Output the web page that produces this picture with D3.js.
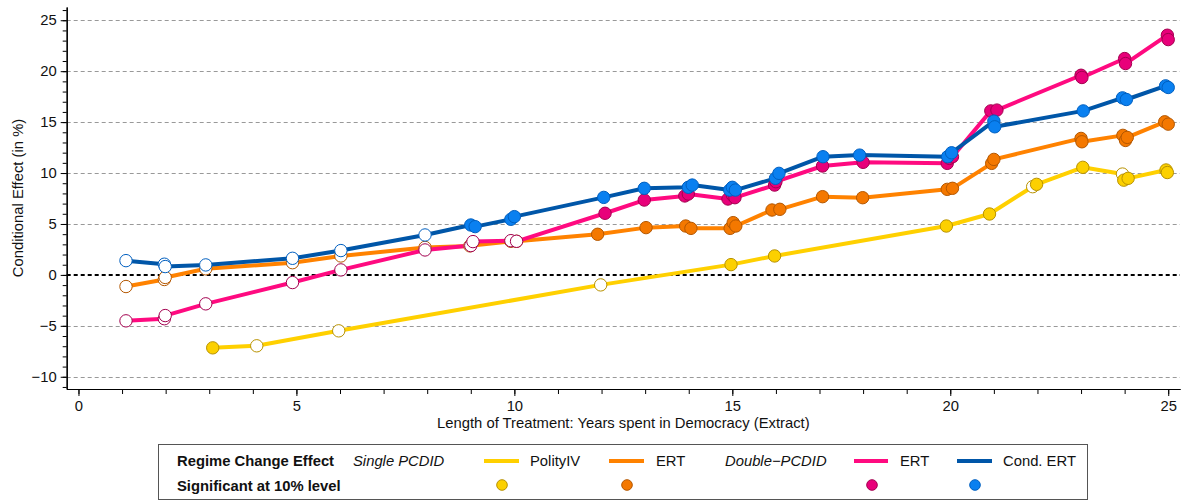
<!DOCTYPE html>
<html>
<head>
<meta charset="utf-8">
<script src="https://cdn.jsdelivr.net/npm/d3@7"></script>
<style>
  html, body { margin: 0; padding: 0; background: #fff; }
  svg { display: block; font-family: "Liberation Sans", Arial, Helvetica, sans-serif; }
</style>
</head>
<body>
<svg id="chart" width="1187" height="500"></svg>
<script>
// ---------------- DATA ----------------
const yMajorTicks = [-10, -5, 0, 5, 10, 15, 20, 25];
const xMajorTicks = [0, 5, 10, 15, 20, 25];

// PolityIV (Single PCDID)
const polityX = [3.08, 4.09, 5.97, 11.98, 14.97, 15.97, 19.91, 20.9, 21.89, 21.98, 23.04, 23.95, 23.98, 24.08, 24.95, 24.98];
const polityY = [-7.16, -6.96, -5.49, -0.98, 1.01, 1.86, 4.8, 5.98, 8.66, 8.89, 10.56, 9.9, 9.3, 9.48, 10.3, 10.05];
const politySig = [1, 0, 0, 0, 1, 1, 1, 1, 0, 1, 1, 0, 1, 1, 1, 1];

// ERT (Single PCDID)
const ertSX = [1.09, 1.97, 1.99, 2.92, 4.91, 6.02, 7.95, 8.98, 9.92, 10.05, 11.91, 13.02, 13.93, 14.05, 14.95, 15.02, 15.08, 15.91, 16.09, 17.07, 17.99, 19.93, 20.05, 20.95, 21.0, 23.0, 23.02, 23.96, 24.02, 24.06, 24.92, 25.0];
const ertSY = [-1.14, -0.45, -0.25, 0.6, 1.2, 1.86, 2.7, 2.85, 3.3, 3.3, 3.99, 4.64, 4.8, 4.57, 4.57, 5.13, 4.8, 6.37, 6.44, 7.68, 7.58, 8.4, 8.5, 10.95, 11.34, 13.4, 13.07, 13.7, 13.2, 13.5, 15.03, 14.8];
const ertSSig = [0, 0, 0, 0, 0, 0, 0, 0, 0, 0, 1, 1, 1, 1, 1, 1, 1, 1, 1, 1, 1, 1, 1, 1, 1, 1, 1, 1, 1, 1, 1, 1];

// ERT (Double-PCDID)
const ertDX = [1.09, 1.97, 1.99, 2.92, 4.91, 6.02, 7.95, 9.0, 9.05, 9.92, 10.05, 12.08, 12.98, 13.91, 13.99, 14.9, 15.0, 15.06, 15.97, 16.0, 17.07, 18.0, 19.93, 19.98, 20.05, 20.93, 21.07, 23.0, 23.02, 24.0, 24.02, 24.98, 25.0];
const ertDY = [-4.51, -4.3, -3.99, -2.84, -0.75, 0.49, 2.45, 2.88, 3.27, 3.36, 3.3, 6.05, 7.35, 7.75, 7.94, 7.45, 7.84, 7.58, 8.82, 9.15, 10.69, 11.05, 10.95, 11.44, 11.6, 16.1, 16.18, 19.6, 19.38, 21.24, 20.75, 23.53, 23.1];
const ertDSig = [0, 0, 0, 0, 0, 0, 0, 0, 0, 0, 0, 1, 1, 1, 1, 1, 1, 1, 1, 1, 1, 1, 1, 1, 1, 1, 1, 1, 1, 1, 1, 1, 1];

// Cond. ERT (Double-PCDID)
const condX = [1.09, 1.97, 1.99, 2.92, 4.91, 6.02, 7.95, 9.0, 9.1, 9.92, 10.0, 12.05, 12.98, 13.99, 14.08, 14.94, 15.0, 15.07, 15.99, 16.07, 17.08, 17.92, 19.94, 20.03, 21.0, 21.02, 23.05, 23.95, 24.04, 24.94, 25.0];
const condY = [1.4, 1.05, 0.82, 0.98, 1.63, 2.39, 3.92, 4.9, 4.74, 5.46, 5.72, 7.61, 8.5, 8.6, 8.82, 8.33, 8.6, 8.33, 9.48, 9.97, 11.6, 11.76, 11.6, 11.99, 15.1, 14.54, 16.1, 17.38, 17.22, 18.56, 18.4];
const condSig = [0, 0, 0, 0, 0, 0, 0, 1, 1, 1, 1, 1, 1, 1, 1, 1, 1, 1, 1, 1, 1, 1, 1, 1, 1, 1, 1, 1, 1, 1, 1];

const seriesNames = ["PolityIV", "ERT", "ERT", "Cond. ERT"];
const seriesGroups = ["Single PCDID", "Double\u2212PCDID"];
const legendTitle = "Regime Change Effect";
const legendSigLabel = "Significant at 10% level";
const xAxisTitle = "Length of Treatment: Years spent in Democracy (Extract)";
const yAxisTitle = "Conditional Effect (in %)";

// ---------------- STYLE ----------------
const series = [
  { xs: polityX, ys: polityY, sig: politySig, line: "#ffd000", fill: "#fcd000", stroke: "#b89200" },
  { xs: ertSX, ys: ertSY, sig: ertSSig, line: "#ff8200", fill: "#f47800", stroke: "#b45700" },
  { xs: ertDX, ys: ertDY, sig: ertDSig, line: "#ff0a80", fill: "#e8007a", stroke: "#a3004f" },
  { xs: condX, ys: condY, sig: condSig, line: "#0056a8", fill: "#0a80f0", stroke: "#005fc0" }
];

const svg = d3.select("#chart");
const x = d3.scaleLinear().domain([-0.27, 25.27]).range([66.7, 1180]);
const y = d3.scaleLinear().domain([-11.2, 26.3]).range([389, 7]);
const fontSize = 14.8;

// Grid lines
svg.append("g").selectAll("line")
  .data(yMajorTicks.filter(d => d !== 0))
  .join("line")
  .attr("x1", x.range()[0]).attr("x2", x.range()[1])
  .attr("y1", d => Math.round(y(d)) + 0.5).attr("y2", d => Math.round(y(d)) + 0.5)
  .attr("stroke", "#999").attr("stroke-width", 1).attr("stroke-dasharray", "4,3");

// zero line
svg.append("line")
  .attr("x1", x.range()[0]).attr("x2", x.range()[1])
  .attr("y1", y(0)).attr("y2", y(0))
  .attr("stroke", "#000").attr("stroke-width", 2).attr("stroke-dasharray", "4,3");

// Axes
const yAxisMinor = d3.axisLeft(y).tickValues(d3.range(-11, 27, 1)).tickSize(4).tickFormat("").tickSizeOuter(0);
const gyMinor = svg.append("g").attr("transform", `translate(${x.range()[0]},0)`).call(yAxisMinor);
const yAxis = d3.axisLeft(y).tickValues(yMajorTicks).tickSize(6).tickPadding(4).tickSizeOuter(0);
const gy = svg.append("g").attr("transform", `translate(${x.range()[0]},0)`).call(yAxis);

const xAxisMinor = d3.axisBottom(x).tickValues(d3.range(0, 26, 1)).tickSize(5).tickFormat("").tickSizeOuter(0);
const gxMinor = svg.append("g").attr("transform", `translate(0,${y.range()[0]})`).call(xAxisMinor);
const xAxis = d3.axisBottom(x).tickValues(xMajorTicks).tickSize(7).tickPadding(4).tickSizeOuter(0);
const gx = svg.append("g").attr("transform", `translate(0,${y.range()[0]})`).call(xAxis);

[gy, gx, gyMinor, gxMinor].forEach(g => {
  g.selectAll("path.domain").attr("stroke", "#000").attr("stroke-width", 1.2);
  g.selectAll(".tick line").attr("stroke", "#000").attr("stroke-width", 1);
  g.selectAll("text").attr("font-size", fontSize).attr("fill", "#111")
    .attr("font-family", '"Liberation Sans", Arial, sans-serif');
});

// Axis titles
svg.append("text")
  .attr("x", (x.range()[0] + x.range()[1]) / 2).attr("y", 428)
  .attr("text-anchor", "middle").attr("font-size", fontSize).attr("fill", "#111")
  .text(xAxisTitle);
svg.append("text")
  .attr("transform", `translate(23,${(y.range()[0] + y.range()[1]) / 2}) rotate(-90)`)
  .attr("text-anchor", "middle").attr("font-size", fontSize).attr("fill", "#111")
  .text(yAxisTitle);

// Lines
const lineGen = d3.line().x(d => x(d[0])).y(d => y(d[1]));
series.forEach(s => {
  const pts = s.xs.map((v, i) => [v, s.ys[i]]);
  svg.append("path").datum(pts)
    .attr("d", lineGen).attr("fill", "none")
    .attr("stroke", s.line).attr("stroke-width", 4)
    .attr("stroke-linejoin", "round").attr("stroke-linecap", "round");
});

// Markers
series.forEach(s => {
  const pts = s.xs.map((v, i) => ({ x: v, y: s.ys[i], sig: s.sig[i] }));
  svg.append("g").selectAll("circle").data(pts).join("circle")
    .attr("cx", d => x(d.x)).attr("cy", d => y(d.y)).attr("r", 6.2)
    .attr("fill", d => d.sig ? s.fill : "#fff")
    .attr("stroke", s.stroke).attr("stroke-width", 1);
});

// Legend
const lg = svg.append("g");
lg.append("rect").attr("x", 158.5).attr("y", 444.5).attr("width", 929).attr("height", 55)
  .attr("fill", "#fff").attr("stroke", "#555").attr("stroke-width", 1);
const r1 = 466, r2 = 490.5;
lg.append("text").attr("x", 177).attr("y", r1).attr("font-size", fontSize).attr("font-weight", "bold").attr("fill", "#111").text(legendTitle);
lg.append("text").attr("x", 177).attr("y", r2).attr("font-size", fontSize).attr("font-weight", "bold").attr("fill", "#111").text(legendSigLabel);
lg.append("text").attr("x", 353).attr("y", r1).attr("font-size", fontSize).attr("font-style", "italic").attr("fill", "#111").text(seriesGroups[0]);
lg.append("text").attr("x", 725).attr("y", r1).attr("font-size", fontSize).attr("font-style", "italic").attr("fill", "#111").text(seriesGroups[1]);

const legendItems = [
  { x1: 484, x2: 519, tx: 530, dot: 502 },
  { x1: 609, x2: 644, tx: 656, dot: 627 },
  { x1: 854, x2: 888, tx: 900, dot: 872 },
  { x1: 957, x2: 992, tx: 1003, dot: 975 }
];
legendItems.forEach((it, i) => {
  const s = series[i];
  lg.append("line").attr("x1", it.x1).attr("x2", it.x2).attr("y1", 461).attr("y2", 461)
    .attr("stroke", s.line).attr("stroke-width", 4);
  lg.append("text").attr("x", it.tx).attr("y", r1).attr("font-size", fontSize).attr("fill", "#111").text(seriesNames[i]);
  lg.append("circle").attr("cx", it.dot).attr("cy", 485).attr("r", 5.3)
    .attr("fill", s.fill).attr("stroke", s.stroke).attr("stroke-width", 1);
});
</script>
</body>
</html>
